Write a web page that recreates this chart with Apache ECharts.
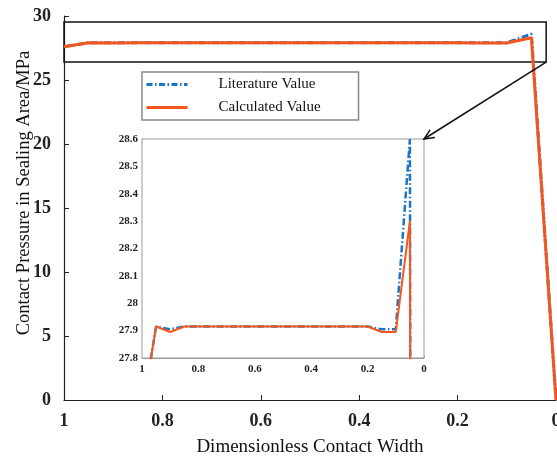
<!DOCTYPE html>
<html><head><meta charset="utf-8">
<script src="https://cdn.jsdelivr.net/npm/echarts@6/dist/echarts.min.js"></script>
<style>html,body{margin:0;padding:0;background:#fff}#c{width:557px;height:456px}</style>
</head><body><div id="c"></div>
<script>
// Data
const contactWidth = [1, 0.95, 0.9, 0.85, 0.8, 0.75, 0.7, 0.65, 0.6, 0.55, 0.5, 0.45, 0.4, 0.35, 0.3, 0.25, 0.2, 0.15, 0.1, 0.05, 0];
const literatureValue = [27.6, 27.915, 27.905, 27.915, 27.915, 27.915, 27.915, 27.915, 27.915, 27.915, 27.915, 27.915, 27.915, 27.915, 27.915, 27.915, 27.915, 27.905, 27.905, 28.6, 0];
const calculatedValue = [27.6, 27.915, 27.895, 27.915, 27.915, 27.915, 27.915, 27.915, 27.915, 27.915, 27.915, 27.915, 27.915, 27.915, 27.915, 27.915, 27.915, 27.895, 27.895, 28.3, 0];
const mainXTicks = [1, 0.8, 0.6, 0.4, 0.2, 0];
const mainYTicks = [0, 5, 10, 15, 20, 25, 30];
const insetXTicks = [1, 0.8, 0.6, 0.4, 0.2, 0];
const insetYTicks = [27.8, 27.9, 28, 28.1, 28.2, 28.3, 28.4, 28.5, 28.6];
const zoomBoxX = [1, 0.02];
const zoomBoxY = [26.4, 29.53];
const seriesNames = ['Literature Value', 'Calculated Value'];

const BLUE = '#1b74c5', ORANGE = '#f5561d';
const SERIF = '"Liberation Serif","Times New Roman",serif';
const pairs = (ys) => contactWidth.map((x, i) => [x, ys[i]]);
const r6 = (v) => Math.round(v * 1e6) / 1e6;
const span = (t) => ({ min: Math.min(...t), max: Math.max(...t), interval: r6(Math.abs(t[1] - t[0])) });

const chart = echarts.init(document.getElementById('c'), null, { renderer: 'canvas' });
const mx = span(mainXTicks), my = span(mainYTicks), ix = span(insetXTicks), iy = span(insetYTicks);
const blueDash = [7, 2.5, 1.5, 2.5];
const fmt = (v) => String(r6(v));

chart.setOption({
  animation: false,
  backgroundColor: '#fff',
  grid: [
    { left: 64, right: 1, top: 16, bottom: 56, outerBoundsMode: 'none', containLabel: false },
    { left: 142, right: 133, top: 139, bottom: 98, outerBoundsMode: 'none', containLabel: false,
      show: true, backgroundColor: '#fff', borderColor: '#9a9a9a', borderWidth: 1, z: 5 }
  ],
  legend: {
    data: [
      { name: seriesNames[0], lineStyle: { width: 3, color: BLUE, type: [6, 2.5, 1.5, 2.5] } },
      { name: seriesNames[1], lineStyle: { width: 3, color: ORANGE } }
    ],
    left: 142, top: 72, orient: 'vertical',
    padding: [5, 38, 5, 3], itemGap: 8, itemWidth: 41, itemHeight: 14,
    borderColor: '#8a8a8a', borderWidth: 1.5, backgroundColor: '#fff',
    itemStyle: { opacity: 0 },
    textStyle: { fontFamily: SERIF, fontSize: 15, color: '#111', padding: [0, 0, 0, 26] },
    z: 10
  },
  xAxis: [
    { gridIndex: 0, type: 'value', inverse: true, min: mx.min, max: mx.max, interval: mx.interval,
      name: 'Dimensionless Contact Width', nameLocation: 'middle', nameGap: 38, nameMoveOverlap: false,
      nameTextStyle: { fontFamily: SERIF, fontSize: 19, color: '#111' },
      axisLine: { onZero: false, lineStyle: { color: '#222', width: 1.2 } },
      axisTick: { inside: true, length: 5, lineStyle: { color: '#222' } },
      axisLabel: { fontFamily: SERIF, fontWeight: 'bold', fontSize: 18, color: '#222', margin: 12, formatter: fmt },
      splitLine: { show: false } },
    { gridIndex: 1, type: 'value', inverse: true, min: ix.min, max: ix.max, interval: ix.interval,
      axisLine: { onZero: false, lineStyle: { color: '#9a9a9a', width: 1 } },
      axisTick: { inside: true, length: 3, lineStyle: { color: '#bbb' } },
      axisLabel: { fontFamily: SERIF, fontWeight: 'bold', fontSize: 11, color: '#222', margin: 6, formatter: fmt },
      splitLine: { show: false } }
  ],
  yAxis: [
    { gridIndex: 0, type: 'value', min: my.min, max: my.max, interval: my.interval,
      name: 'Contact Pressure in Sealing Area/MPa', nameLocation: 'middle', nameGap: 30, nameMoveOverlap: false,
      nameTextStyle: { fontFamily: SERIF, fontSize: 18.5, color: '#111', padding: [0, 0, 0, 30] },
      axisLine: { show: true, onZero: false, lineStyle: { color: '#222', width: 1.2 } },
      axisTick: { show: true, inside: true, length: 5, lineStyle: { color: '#222' } },
      axisLabel: { fontFamily: SERIF, fontWeight: 'bold', fontSize: 18, color: '#222', margin: 13, formatter: fmt },
      splitLine: { show: false } },
    { gridIndex: 1, type: 'value', min: iy.min, max: iy.max, interval: iy.interval,
      axisLine: { show: true, onZero: false, lineStyle: { color: '#9a9a9a', width: 1 } },
      axisTick: { show: true, inside: true, length: 3, lineStyle: { color: '#bbb' } },
      axisLabel: { fontFamily: SERIF, fontWeight: 'bold', fontSize: 11, color: '#222', margin: 4,
        formatter: (v) => String(Math.round(v * 10) / 10) },
      splitLine: { show: false } }
  ],
  series: [
    { name: seriesNames[0], type: 'line', xAxisIndex: 0, yAxisIndex: 0, data: pairs(literatureValue),
      symbol: 'none', lineStyle: { color: BLUE, width: 3, type: blueDash }, itemStyle: { color: BLUE }, z: 2 },
    { name: seriesNames[1], type: 'line', xAxisIndex: 0, yAxisIndex: 0, data: pairs(calculatedValue),
      symbol: 'none', lineStyle: { color: ORANGE, width: 3 }, itemStyle: { color: ORANGE }, z: 3,
      markArea: { silent: true, itemStyle: { color: 'rgba(0,0,0,0)', borderColor: '#111', borderWidth: 1.5 },
        data: [[{ coord: [zoomBoxX[0], zoomBoxY[1]] }, { coord: [zoomBoxX[1], zoomBoxY[0]] }]] } },
    { name: seriesNames[0], type: 'line', xAxisIndex: 1, yAxisIndex: 1, data: pairs(literatureValue),
      symbol: 'none', clip: true, lineStyle: { color: BLUE, width: 2.5, type: blueDash }, itemStyle: { color: BLUE }, z: 6 },
    { name: seriesNames[1], type: 'line', xAxisIndex: 1, yAxisIndex: 1, data: pairs(calculatedValue),
      symbol: 'none', clip: true, lineStyle: { color: ORANGE, width: 2 }, itemStyle: { color: ORANGE }, z: 7 }
  ]
});

// Arrow from the zoom box corner to the inset's top-right corner
const p1 = chart.convertToPixel({ xAxisIndex: 0, yAxisIndex: 0 }, [zoomBoxX[1], zoomBoxY[0]]);
const p2 = chart.convertToPixel({ xAxisIndex: 1, yAxisIndex: 1 }, [ix.min, iy.max]);
const dx = p2[0] - p1[0], dy = p2[1] - p1[1], L = Math.hypot(dx, dy);
const ux = dx / L, uy = dy / L, ah = 10, aw = 4.5;
const b = [p2[0] - ux * ah, p2[1] - uy * ah];
chart.setOption({
  graphic: [
    { type: 'line', shape: { x1: p1[0], y1: p1[1], x2: p2[0], y2: p2[1] }, style: { stroke: '#111', lineWidth: 1.5 }, z: 20 },
    { type: 'polyline', shape: { points: [[b[0] - uy * aw, b[1] + ux * aw], p2, [b[0] + uy * aw, b[1] - ux * aw]] },
      style: { stroke: '#111', lineWidth: 1.5, fill: null }, z: 20 }
  ]
});
</script></body></html>
